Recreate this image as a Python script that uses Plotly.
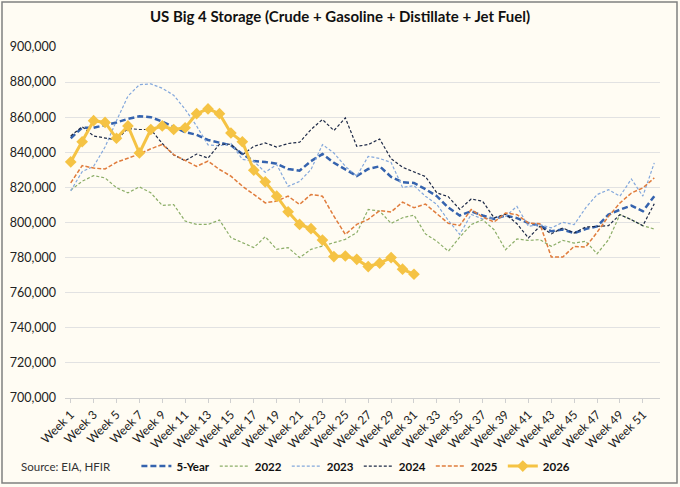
import plotly.graph_objects as go

weeks = ["Week %d" % i for i in range(1, 53)]

five_year = [848, 854, 854, 855.5, 857, 859, 860.5, 860, 857.5, 854.5, 851.5, 850, 847, 845.5, 844, 839,
             835, 834.5, 833.5, 830.5, 829.5, 835, 839, 834, 830, 826.5, 830.5, 832, 826, 823, 822.5, 819,
             815, 808.5, 804, 806.4, 804, 802, 804, 802.5, 799.7, 798.2, 795, 796, 794, 796.3, 797.8, 804.5,
             807.3, 809.6, 806.4, 815]
y2022 = [818.4, 823.5, 826.7, 825.4, 819.8, 816.9, 820.3, 816.9, 809.7, 810.2, 800.8, 798.9, 798.9, 801.4,
         791.4, 788.5, 785.7, 791.9, 784.7, 785.7, 780, 784.7, 786.6, 788.1, 790.4, 794.2, 807.4, 806.5,
         799.5, 802.7, 804.2, 793.5, 789.3, 783.6, 791.7, 798.8, 801.6, 795.9, 784.5, 790.6, 789.8, 790.2,
         786.4, 789.8, 788.3, 789.3, 782.2, 790.2, 804.5, 801.6, 798.2, 796.3]
y2023 = [818, 829, 832, 843, 858, 872, 878.5, 879, 876.5, 872.5, 864.5, 855, 844.2, 843.7, 845, 836,
         834.9, 828.6, 833, 820.6, 823.4, 830.2, 844.4, 839.6, 832, 826.4, 837.7, 836.5, 834.2, 820, 821,
         815, 810.3, 801.2, 793.2, 804.6, 802, 802.6, 803.5, 809.2, 797.8, 798.8, 796.9, 800.1, 798.8,
         808.3, 815.9, 818.7, 815, 824.8, 815, 834]
y2024 = [849.3, 854.6, 849.3, 848, 847, 853.6, 853, 853, 845, 838.5, 835.2, 839, 836.7, 844.6, 844.6,
         838.5, 843.4, 845.3, 843, 845, 845.7, 853, 858.7, 852.4, 859.6, 843.4, 844.4, 847.6, 836.3, 831.5,
         828.9, 826.2, 816.9, 814.7, 807.5, 813.4, 812.1, 802.6, 804.8, 799.3, 791.2, 797.8, 793.5, 796.9,
         794, 797.4, 797.8, 798.2, 804.5, 801.6, 798.2, 810.7]
y2025 = [822.6, 832.4, 831, 830.5, 834.3, 836.8, 839, 842, 844.5, 838.7, 835.3, 832, 835, 830.2, 826.4,
         820.7, 816, 811.2, 812.2, 815, 810.3, 816, 815, 803.6, 793.2, 798.9, 801.8, 806.8, 806, 811.6,
         808.4, 810.5, 805, 799.5, 798.3, 807.4, 803.1, 800.3, 805.4, 804.5, 799.7, 799.3, 780.3, 780.3,
         786.4, 786, 794.4, 803.5, 811.1, 816.8, 819.7, 825.4]
y2026 = [834.5, 846, 858, 857, 848, 855, 839.6, 853, 855, 853, 854, 862, 864.7, 862, 851, 846, 829.8,
         823.2, 815, 806.1, 798.9, 796.5, 790, 780.6, 780.9, 779, 774.9, 776.8, 780, 773.4, 770.5]

y_ticks = list(range(700000, 900001, 20000))

def k(vals):
    return [v * 1000 for v in vals]

fig = go.Figure()
fig.add_trace(go.Scatter(x=weeks, y=k(five_year), name="<b>5-Year</b>", mode="lines",
                         line=dict(color="#3563AE", width=2.5, dash="6px,3px")))
fig.add_trace(go.Scatter(x=weeks, y=k(y2022), name="<b>2022</b>", mode="lines",
                         line=dict(color="#8CAE68", width=1.2, dash="3px,2px")))
fig.add_trace(go.Scatter(x=weeks, y=k(y2023), name="<b>2023</b>", mode="lines",
                         line=dict(color="#84A8DC", width=1.2, dash="3px,2px")))
fig.add_trace(go.Scatter(x=weeks, y=k(y2024), name="<b>2024</b>", mode="lines",
                         line=dict(color="#1E2A47", width=1.2, dash="3px,2px")))
fig.add_trace(go.Scatter(x=weeks, y=k(y2025), name="<b>2025</b>", mode="lines",
                         line=dict(color="#E07C3C", width=1.5, dash="4px,2px")))
fig.add_trace(go.Scatter(x=weeks[:len(y2026)], y=k(y2026), name="<b>2026</b>", mode="lines+markers",
                         line=dict(color="#F5C344", width=3),
                         marker=dict(symbol="diamond", size=9, color="#F5C344")))

bg = "#FFFCF3"
fig.update_layout(
    width=680, height=487,
    margin=dict(l=65, r=20, t=47, b=89, autoexpand=False),
    paper_bgcolor=bg, plot_bgcolor=bg,
    font=dict(family="Lato", size=12, color="#222222"),
    title=dict(text="<b>US Big 4 Storage (Crude + Gasoline + Distillate + Jet Fuel)</b>",
               x=0.5, xanchor="center", y=0.965, yanchor="middle",
               font=dict(size=15, color="#111111")),
    showlegend=True,
    legend=dict(orientation="h", x=0.12, xanchor="left", y=-0.194, yanchor="middle",
                font=dict(size=11.5, color="#111111"), bgcolor="rgba(0,0,0,0)",
                itemwidth=30, tracegroupgap=0, traceorder="normal"),
)
fig.update_xaxes(type="category", tickvals=weeks[0::2], tickangle=-45, automargin=False,
                 showgrid=False, showline=True, linecolor="#D0D0D0", linewidth=1,
                 ticks="outside", ticklen=4, tickcolor="#D0D0D0",
                 tickfont=dict(size=12), range=[-0.5, 51.5])
fig.update_yaxes(range=[700000, 900000], tickvals=y_ticks, tickformat=",", automargin=False,
                 showgrid=True, gridcolor="#E2E2E2", gridwidth=1, zeroline=False,
                 tickfont=dict(size=12.5), ticks="", showline=False, ticklabelstandoff=8)

fig.add_annotation(text="Source: EIA, HFIR", xref="paper", yref="paper",
                   x=-0.078, y=-0.194, xanchor="left", yanchor="middle",
                   showarrow=False, font=dict(size=11.5, color="#333333"))

fig.add_shape(type="rect", xref="paper", yref="paper",
              x0=(2 - 65) / 595, x1=(677 - 65) / 595,
              y0=(398 - 483) / 351, y1=(398 - 2) / 351,
              line=dict(color="#808080", width=1.5), layer="below")

fig.write_html("out.html", config={"displayModeBar": False},
               post_script="document.body.style.margin='0';")
